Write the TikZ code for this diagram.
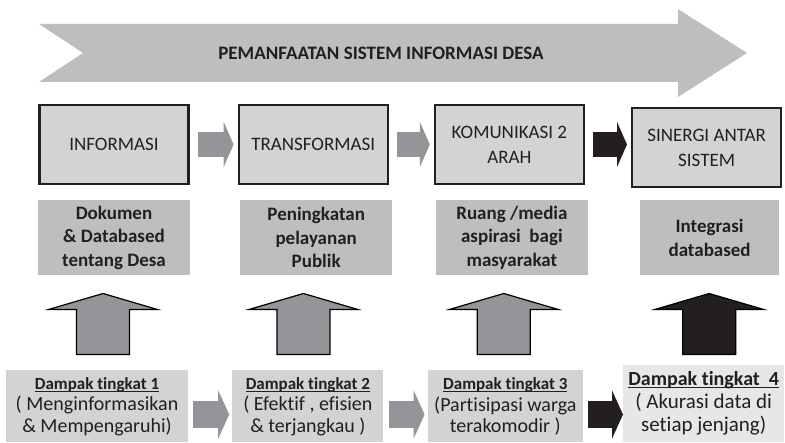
\documentclass[tikz,border=0pt]{standalone}
\usepackage{fontspec}
\setmainfont{Carlito}[Ligatures=NoCommon]
\usepackage{xcolor}
\usepackage{tikz}
\usetikzlibrary{arrows.meta, positioning, calc}
\definecolor{darkline}{HTML}{231F20}
\definecolor{bannergray}{HTML}{BCBEC0}
\definecolor{boxgray}{HTML}{D1D3D4}
\definecolor{arrowgray}{HTML}{939598}
\definecolor{palegray}{HTML}{E6E7E8}
\newcommand{\headline}[1]{\setbox0\hbox{#1}\rlap{\rule[-2.4pt]{\wd0}{1.1pt}}\box0}
\tikzstyle{stage} = [rectangle, minimum width=149pt, minimum height=79pt, inner sep=0pt, align=center, draw=darkline, line width=2.2pt, fill=boxgray, text=darkline, font=\fontsize{19}{25}\selectfont]
\tikzstyle{result} = [rectangle, minimum width=152pt, minimum height=75pt, inner sep=0pt, align=center, fill=bannergray, text=darkline, font=\bfseries\fontsize{19}{23.5}\selectfont]
\tikzstyle{impact} = [rectangle, minimum height=72pt, inner sep=0pt, align=center, fill=boxgray, text=darkline, font=\fontsize{20}{21.5}\selectfont]
\tikzstyle{flow} = [line width=25pt, arrowgray, shorten <=8pt, shorten >=4pt, -{Triangle[length=10pt, width=45pt]}]
\tikzstyle{impactflow} = [line width=27pt, arrowgray, shorten <=5pt, shorten >=3pt, -{Triangle[length=11pt, width=48pt]}]
\tikzstyle{lift} = [draw=black, line width=1.2pt, fill=arrowgray, line join=miter,
  to path={let \p1=(\tikztostart), \p2=(\tikztotarget) in
    (\x1-26.5pt,\y2-79pt) -- (\x1-26.5pt,\y2-34pt) -- (\x1-54.5pt,\y2-34pt) -- (\x1,\y2-18pt)
    -- (\x1+54.5pt,\y2-34pt) -- (\x1+26.5pt,\y2-34pt) -- (\x1+26.5pt,\y2-79pt) -- cycle}]

\begin{document}
\begin{tikzpicture}[x=1pt, y=-1pt]
\useasboundingbox (0,0) rectangle (785,443);

% Banner
\fill[bannergray] (39,24) -- (678,24) -- (678,9) -- (747,53) -- (678,97) -- (678,82) -- (39,82) -- (83,53) -- cycle;
\node (banner) [text=darkline, font=\bfseries\fontsize{19}{23}\selectfont] at (381,53) {PEMANFAATAN SISTEM INFORMASI DESA};

% Stages
\node (info) [stage] at (114,144.5) {INFORMASI};
\node (trans) [stage, right=48pt of info] {TRANSFORMASI};
\node (komun) [stage, right=45pt of trans] {KOMUNIKASI 2\\ARAH};
\node (sinergi) [stage, right=46pt of komun, yshift=-3pt] {SINERGI ANTAR\\SISTEM};

% Results
\node (dokumen) [result, below=15pt of info] {Dokumen\\\& Databased\\tentang Desa};
\node (layanan) [result, below=15pt of trans, xshift=3pt] {Peningkatan\\pelayanan\\Publik};
\node (ruang) [result, below=15pt of komun, xshift=2.5pt] {Ruang /media\\aspirasi~ bagi\\masyarakat};
\node (integrasi) [result, below=12pt of sinergi, xshift=3pt, minimum width=139pt] {Integrasi\\databased};

% Impacts
\node (dampak1) [impact, minimum width=182pt] at (97,406.5) {{\bfseries\fontsize{17}{21.5}\selectfont\headline{Dampak tingkat 1}}\\( Menginformasikan\\\& Mempengaruhi)};
\node (dampak2) [impact, minimum width=151pt, right=44pt of dampak1] {{\bfseries\fontsize{17}{21.5}\selectfont\headline{Dampak tingkat 2}}\\( Efektif , efisien\\\& terjangkau )};
\node (dampak3) [impact, minimum width=155pt, right=44pt of dampak2] {{\bfseries\fontsize{17}{21.5}\selectfont\headline{Dampak tingkat 3}}\\(Partisipasi warga\\terakomodir )};
\node (dampak4) [impact, minimum width=161pt, minimum height=77pt, fill=palegray, right=40pt of dampak3, yshift=3pt, font=\fontsize{21}{23}\selectfont] {{\bfseries\fontsize{20}{23}\selectfont\headline{Dampak tingkat~ 4}}\\( Akurasi data di\\setiap jenjang)};

% Connections
\draw [flow] (info) -- (trans);
\draw [flow] (trans) -- (komun);
\draw [flow, darkline] (komun.east) -- (komun.east -| sinergi.west);
\draw [impactflow] ([yshift=-8pt]dampak1.east) -- ([yshift=-8pt]dampak1.east -| dampak2.west);
\draw [impactflow] ([yshift=-8pt]dampak2.east) -- ([yshift=-8pt]dampak2.east -| dampak3.west);
\draw [impactflow, darkline, shorten >=0pt] ([yshift=-8pt]dampak3.east) -- ([yshift=-8pt]dampak3.east -| dampak4.west);
\draw [lift] ([xshift=6pt]dampak1.north) to (dokumen.south);
\draw [lift] ([xshift=-4.5pt]dampak2.north) to (layanan.south);
\draw [lift] ([xshift=-1.5pt]dampak3.north) to (ruang.south);
\draw [lift, fill=darkline] ([xshift=5.5pt]dampak4.north) to (integrasi.south);

\end{tikzpicture}
\end{document}
